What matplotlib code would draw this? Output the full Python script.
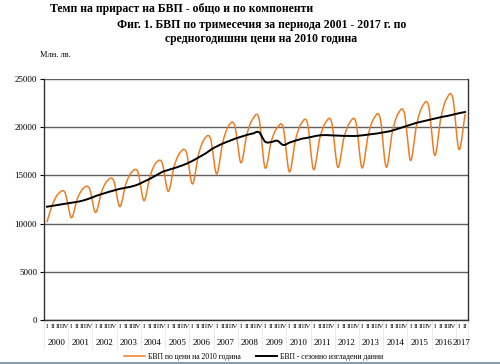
import numpy as np
import matplotlib
matplotlib.use("Agg")
import matplotlib.pyplot as plt
from matplotlib.lines import Line2D

plt.rcParams['font.family'] = ['Liberation Serif', 'DejaVu Serif']

years = [str(y) for y in range(2000, 2018)]
quarters = ['I', 'II', 'III', 'IV']

# БВП по цени на 2010 година (млн. лв.), 2000 Q1 - 2017 Q2
gdp = [10210, 12140, 13180, 13180,
       10600, 12580, 13650, 13650,
       11150, 13310, 14470, 14470,
       11760, 14090, 15350, 15350,
       12380, 14930, 16300, 16300,
       13330, 15980, 17400, 17400,
       14100, 17160, 18800, 18800,
       15150, 18410, 20160, 20160,
       16300, 19280, 20890, 20890,
       15780, 18490, 19950, 19950,
       15360, 18640, 20400, 20400,
       15600, 18790, 20500, 20500,
       15850, 18870, 20500, 20500,
       15780, 19140, 20950, 20950,
       15850, 19490, 21450, 21450,
       16550, 20220, 22200, 22200,
       17070, 20920, 23000, 23000,
       17700, 21290]

# БВП - сезонно изгладени данни
gdp_sa = [11750, 11850, 11950, 12050,
          12150, 12250, 12400, 12600,
          12850, 13050, 13250, 13430,
          13600, 13720, 13850, 14050,
          14350, 14650, 15000, 15350,
          15560, 15750, 15960, 16200,
          16500, 16850, 17200, 17650,
          18000, 18300, 18550, 18800,
          19000, 19200, 19350, 19480,
          18500, 18450, 18600, 18150,
          18400, 18600, 18800, 18900,
          19050, 19150, 19180, 19150,
          19120, 19100, 19090, 19090,
          19150, 19230, 19300, 19400,
          19500, 19650, 19850, 20050,
          20250, 20450, 20600, 20750,
          20900, 21050, 21150, 21300,
          21450, 21570]


def smooth(y, n=12):
    # Catmull-Rom curve through the points, like Excel's smoothed line
    y = np.asarray(y, dtype=float)
    p = np.concatenate([[2 * y[0] - y[1]], y, [2 * y[-1] - y[-2]]])
    xs, ys = [], []
    for i in range(len(y) - 1):
        p0, p1, p2, p3 = p[i], p[i + 1], p[i + 2], p[i + 3]
        t = np.linspace(0, 1, n, endpoint=False)
        m1 = (p2 - p0) / 2
        m2 = (p3 - p1) / 2
        h = ((2 * t**3 - 3 * t**2 + 1) * p1 + (t**3 - 2 * t**2 + t) * m1
             + (-2 * t**3 + 3 * t**2) * p2 + (t**3 - t**2) * m2)
        xs.append(i + t)
        ys.append(h)
    xs.append([len(y) - 1])
    ys.append([y[-1]])
    return np.concatenate(xs), np.concatenate(ys)


fig = plt.figure(figsize=(5, 3.64), dpi=100)
ax = fig.add_axes([0.088, 0.121, 0.848, 0.662])

x1, y1 = smooth(gdp)
x2, y2 = smooth(gdp_sa)
ax.plot(x1, y1, color='#EE7D22', lw=1.1, label='БВП по цени на 2010 година')
ax.plot(x2, y2, color='black', lw=1.4, label='БВП - сезонно изгладени данни')

n = len(gdp)
ax.set_xlim(-0.5, n - 0.5)
ax.set_ylim(0, 25000)
ax.set_yticks(range(0, 25001, 5000))
ax.tick_params(axis='y', labelsize=6.5, length=3, pad=2)
ax.yaxis.grid(True, color='#606060', lw=1)
ax.set_axisbelow(True)

ax.set_xticks(range(n))
ax.set_xticklabels([quarters[i % 4] for i in range(n)], fontsize=5)
ax.tick_params(axis='x', length=0, pad=3)

for s in ['left', 'bottom', 'right']:
    ax.spines[s].set_color('#333333')
    ax.spines[s].set_linewidth(1)
ax.spines['top'].set_visible(False)

trans = ax.get_xaxis_transform()
for k, yr in enumerate(years):
    start = 4 * k
    end = min(4 * k + 3, n - 1)
    ax.text((start + end) / 2, -0.095, yr, transform=trans, ha='center',
            va='center', fontsize=6.5)
for b in list(range(-1, n, 4)) + [n - 1]:
    ax.plot([b + 0.5, b + 0.5], [0, -0.12], transform=trans, color='#e6e6e6',
            lw=0.6, clip_on=False)

fig.text(0.10, 0.975, 'Темп на прираст на БВП - общо и по компоненти',
         fontsize=8.5, fontweight='bold', va='center')
fig.text(0.523, 0.93, 'Фиг. 1. БВП по тримесечия за периода 2001 - 2017 г. по',
         fontsize=8.5, fontweight='bold', ha='center', va='center')
fig.text(0.523, 0.893, 'средногодишни цени на 2010 година',
         fontsize=8.5, fontweight='bold', ha='center', va='center')
fig.text(0.08, 0.848, 'Млн. лв.', fontsize=6, va='center')

fig.legend(loc='center', bbox_to_anchor=(0.507, 0.02), ncol=2, frameon=False,
           fontsize=5.5, handlelength=2.7, handletextpad=0.4,
           columnspacing=2, borderaxespad=0)
fig.add_artist(Line2D([0, 1], [0.004, 0.004], color='#8a9bb0', lw=1.5))

fig.savefig('out.png', dpi=100)
